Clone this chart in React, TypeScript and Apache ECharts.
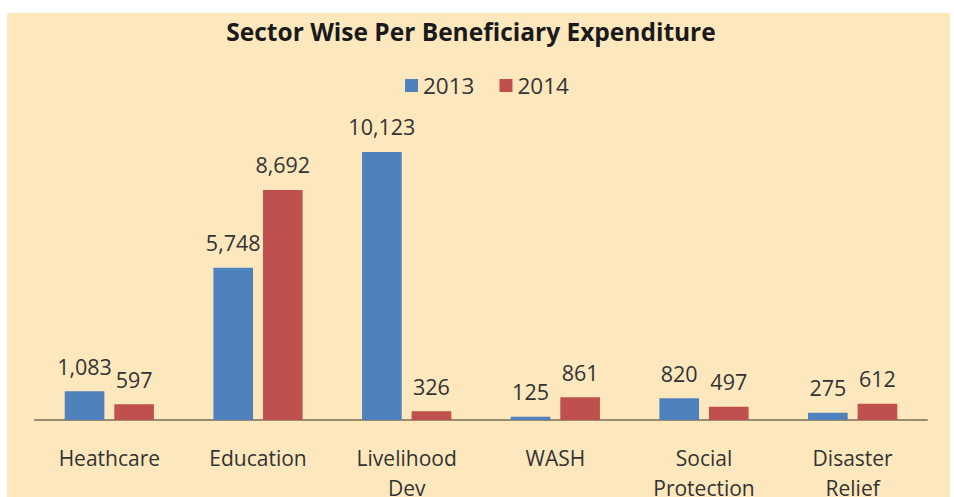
import React, { useEffect, useRef } from "react";
import * as echarts from "echarts";

const categories = ["Heathcare", "Education", "Livelihood\nDev", "WASH", "Social\nProtection", "Disaster\nRelief"];
const values2013 = [1083, 5748, 10123, 125, 820, 275];
const values2014 = [597, 8692, 326, 861, 497, 612];
const seriesNames = ["2013", "2014"];

const FONT = "'Open Sans', sans-serif";

export default function App() {
  const ref = useRef<HTMLDivElement>(null);
  useEffect(() => {
    document.body.style.margin = "0";
    const chart = echarts.init(ref.current!, undefined, { renderer: "svg" });
    const labelCfg = {
      show: true,
      position: "top" as const,
      distance: 14,
      fontFamily: FONT,
      fontSize: 21.5,
      color: "#333333",
      formatter: (p: any) => Number(p.value).toLocaleString("en-US"),
    };
    chart.setOption({
      animation: false,
      backgroundColor: "#ffffff",
      graphic: [
        {
          type: "rect",
          z: -10,
          silent: true,
          shape: { x: 7, y: 13, width: 943, height: 484 },
          style: { fill: "#FDE8BE" },
        },
      ],
      title: {
        text: "Sector Wise Per Beneficiary Expenditure",
        left: 466,
        top: 14,
        textAlign: "center",
        textStyle: { fontFamily: FONT, fontSize: 24.5, fontWeight: "bold", color: "#1a1a1a" },
      },
      legend: {
        data: seriesNames,
        left: 400,
        top: 69,
        itemWidth: 13,
        itemHeight: 13,
        itemGap: 25,
        icon: "rect",
        textStyle: { fontFamily: FONT, fontSize: 22.5, color: "#333333" },
      },
      grid: { left: 35, right: 27, top: 102.3, bottom: 77, containLabel: false, outerBoundsMode: "none" },
      xAxis: {
        type: "category",
        data: categories,
        axisLine: { show: true, lineStyle: { color: "#998B6E", width: 2 } },
        axisTick: { show: false },
        axisLabel: {
          fontFamily: FONT,
          fontSize: 21,
          color: "#333333",
          margin: 23,
          lineHeight: 30,
          interval: 0,
        },
      },
      yAxis: {
        type: "value",
        min: 0,
        max: 12000,
        show: false,
        splitLine: { show: false },
      },
      series: [
        {
          name: seriesNames[0],
          type: "bar",
          data: values2013,
          barGap: "25%",
          barCategoryGap: "40%",
          itemStyle: { color: "#4F81BD" },
          label: labelCfg,
        },
        {
          name: seriesNames[1],
          type: "bar",
          data: values2014,
          barGap: "25%",
          barCategoryGap: "40%",
          itemStyle: { color: "#C0504D" },
          label: labelCfg,
        },
      ],
    });
    return () => chart.dispose();
  }, []);
  return <div ref={ref} style={{ width: 954, height: 497, position: "absolute", left: 0, top: 0 }} />;
}
